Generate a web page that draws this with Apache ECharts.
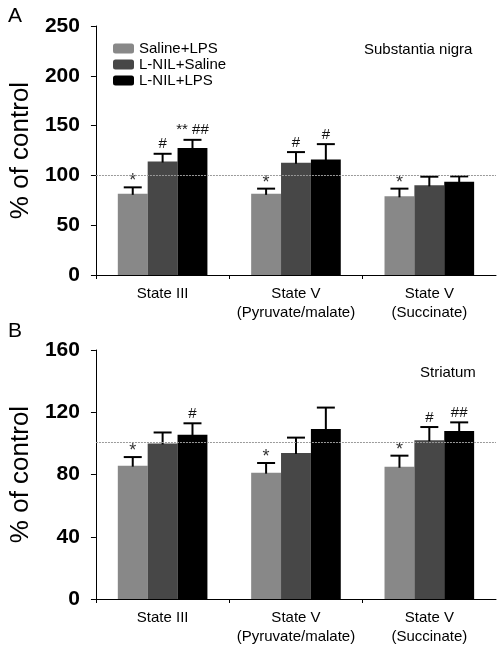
<!DOCTYPE html>
<html>
<head>
<meta charset="utf-8">
<script src="https://cdn.jsdelivr.net/npm/echarts@6/dist/echarts.min.js"></script>
<style>
html,body{margin:0;padding:0;background:#fff;}
#chart{width:498px;height:647px;}
</style>
</head>
<body>
<div id="chart"></div>
<script>
// ---- data ----
const categories = ['State III', 'State V\n(Pyruvate/malate)', 'State V\n(Succinate)'];
const seriesNames = ['Saline+LPS', 'L-NIL+Saline', 'L-NIL+LPS'];
const colors = ['#888888', '#474747', '#000000'];

// Panel A: Substantia nigra
const aSalineLps = [81.5, 81.5, 79];
const aLnilSaline = [114, 112.7, 90];
const aLnilLps = [127.5, 116, 93.7];
const aSalineLpsErr = [6.5, 5.2, 7.7];
const aLnilSalineErr = [7.7, 10.7, 8.7];
const aLnilLpsErr = [8.2, 15.4, 5.3];
const aSalineLpsNote = ['*', '*', '*'];
const aLnilSalineNote = ['#', '#', ''];
const aLnilLpsNote = ['** ##', '#', ''];
const aTicks = [0, 50, 100, 150, 200, 250];
const aRef = 100;

// Panel B: Striatum
const bSalineLps = [85.7, 81.2, 85];
const bLnilSaline = [100, 93.8, 102];
const bLnilLps = [105.6, 109.2, 108];
const bSalineLpsErr = [5.5, 6.2, 7.1];
const bLnilSalineErr = [7, 9.9, 8.5];
const bLnilLpsErr = [7.3, 13.8, 5.5];
const bSalineLpsNote = ['*', '*', '*'];
const bLnilSalineNote = ['', '', '#'];
const bLnilLpsNote = ['#', '', '##'];
const bTicks = [0, 40, 80, 120, 160];
const bRef = 101;

const BAR_FRAC = 0.224;
const font = 'Arial, "Liberation Sans", sans-serif';

function buildErr(meansList, errsList, notesList) {
  const data = [], notes = [];
  meansList.forEach((means, s) => {
    means.forEach((m, c) => {
      data.push([c, m, m + errsList[s][c], s]);
      notes.push(notesList[s][c]);
    });
  });
  return { data, notes };
}

function errSeries(idx, built) {
  return {
    type: 'custom',
    xAxisIndex: idx, yAxisIndex: idx,
    z: 5,
    silent: true,
    data: built.data,
    renderItem: function (params, api) {
      const c = api.value(0), m = api.value(1), hi = api.value(2), s = api.value(3);
      const band = api.size([1, 0])[0];
      const bw = band * BAR_FRAC;
      const base = api.coord([c, m]);
      const top = api.coord([c, hi]);
      const x = base[0] + (s - 1) * bw;
      const note = built.notes[params.dataIndex];
      const children = [
        { type: 'line', shape: { x1: x, y1: base[1] + 1, x2: x, y2: top[1] }, style: { stroke: '#000', lineWidth: 2 } },
        { type: 'line', shape: { x1: x - 9, y1: top[1], x2: x + 9, y2: top[1] }, style: { stroke: '#000', lineWidth: 2 } }
      ];
      if (note) {
        const starOnly = note.indexOf('#') < 0;
        children.push({
          type: 'text',
          style: {
            text: note, x: x, y: starOnly ? top[1] + 3 : top[1] - 2,
            align: 'center', verticalAlign: 'bottom',
            font: (starOnly ? '18px ' : '15px ') + font,
            fill: starOnly ? '#333' : '#111'
          }
        });
      }
      return { type: 'group', children: children };
    }
  };
}

function barSeries(idx, values, s, ref) {
  const o = {
    type: 'bar',
    name: seriesNames[s],
    xAxisIndex: idx, yAxisIndex: idx,
    data: values,
    barWidth: (BAR_FRAC * 100) + '%',
    barGap: '0%',
    itemStyle: { color: colors[s] },
    silent: true
  };
  if (s === 2) {
    o.markLine = {
      silent: true,
      symbol: 'none',
      z: 10,
      label: { show: false },
      lineStyle: { color: '#9a9a9a', type: [2, 1], width: 1 },
      data: [{ yAxis: ref }]
    };
  }
  return o;
}

function xAxis(idx) {
  return {
    type: 'category', gridIndex: idx, data: categories,
    axisLine: { lineStyle: { color: '#000', width: 1 } },
    axisTick: { show: true, length: 4, lineStyle: { color: '#000' } },
    axisLabel: { color: '#000', fontSize: 15, fontFamily: font, lineHeight: 19, margin: 9, interval: 0 }
  };
}
function yAxis(idx, ticks) {
  return {
    type: 'value', gridIndex: idx,
    min: ticks[0], max: ticks[ticks.length - 1], interval: ticks[1] - ticks[0],
    name: '% of control', nameLocation: 'middle', nameGap: 53,
    nameTextStyle: { color: '#000', fontSize: 26, fontFamily: font },
    axisLine: { show: true, lineStyle: { color: '#000', width: 1 } },
    axisTick: { show: true, length: 5, lineStyle: { color: '#000' } },
    splitLine: { show: false },
    axisLabel: { color: '#000', fontSize: 21, fontWeight: 'bold', fontFamily: font, margin: 16 }
  };
}

const aErr = buildErr([aSalineLps, aLnilSaline, aLnilLps], [aSalineLpsErr, aLnilSalineErr, aLnilLpsErr], [aSalineLpsNote, aLnilSalineNote, aLnilLpsNote]);
const bErr = buildErr([bSalineLps, bLnilSaline, bLnilLps], [bSalineLpsErr, bLnilSalineErr, bLnilLpsErr], [bSalineLpsNote, bLnilSalineNote, bLnilLpsNote]);

const chart = echarts.init(document.getElementById('chart'), null, { renderer: 'canvas' });
chart.setOption({
  animation: false,
  backgroundColor: '#fff',
  grid: [
    { left: 92, top: 26, width: 404, height: 249 },
    { left: 93, top: 350, width: 403, height: 249 }
  ],
  xAxis: [xAxis(0), xAxis(1)],
  yAxis: [yAxis(0, aTicks), yAxis(1, bTicks)],
  legend: {
    show: true,
    data: seriesNames,
    orient: 'vertical',
    left: 108, top: 36,
    itemWidth: 21, itemHeight: 10, itemGap: 1,
    selectedMode: false,
    textStyle: { color: '#000', fontSize: 15, fontFamily: font, lineHeight: 15 }
  },
  graphic: [
    { type: 'text', left: 8, top: 6, style: { text: 'A', font: '21px ' + font, fill: '#000' } },
    { type: 'text', left: 8, top: 321, style: { text: 'B', font: '21px ' + font, fill: '#000' } },
    { type: 'text', left: 364, top: 42, style: { text: 'Substantia nigra', font: '15px ' + font, fill: '#000' } },
    { type: 'text', left: 420, top: 365, style: { text: 'Striatum', font: '15px ' + font, fill: '#000' } }
  ],
  series: [
    barSeries(0, aSalineLps, 0, aRef),
    barSeries(0, aLnilSaline, 1, aRef),
    barSeries(0, aLnilLps, 2, aRef),
    barSeries(1, bSalineLps, 0, bRef),
    barSeries(1, bLnilSaline, 1, bRef),
    barSeries(1, bLnilLps, 2, bRef),
    errSeries(0, aErr),
    errSeries(1, bErr)
  ]
});
</script>
</body>
</html>
